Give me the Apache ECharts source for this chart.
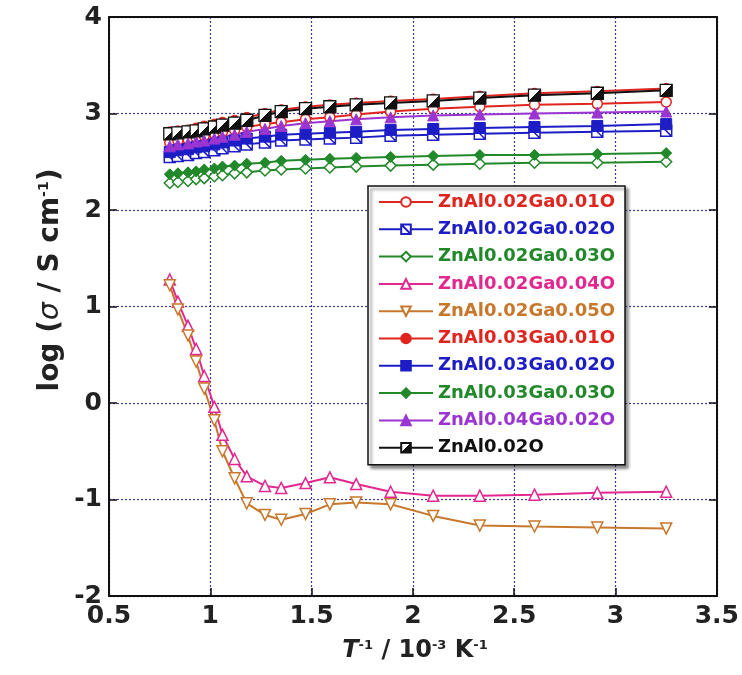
<!DOCTYPE html>
<html>
<head>
<meta charset="utf-8">
<script src="https://cdn.jsdelivr.net/npm/echarts@6/dist/echarts.min.js"></script>
<style>
  html, body { margin: 0; padding: 0; background: #fff; }
  #chart { width: 742px; height: 675px; }
</style>
</head>
<body>
<div id="chart"></div>
<script>
// Inverse temperature, 10^-3 K^-1
const invT = [0.80, 0.84, 0.89, 0.93, 0.97, 1.02, 1.06, 1.12, 1.18, 1.27,
              1.35, 1.47, 1.59, 1.72, 1.89, 2.10, 2.33, 2.60, 2.91, 3.25];

// log(sigma / S cm^-1) for each composition
const znAl002Ga001 = [2.70, 2.72, 2.73, 2.75, 2.77, 2.79, 2.81, 2.83, 2.86, 2.89,
                      2.91, 2.94, 2.96, 2.99, 3.02, 3.05, 3.07, 3.09, 3.10, 3.12];
const znAl002Ga002 = [2.55, 2.56, 2.57, 2.59, 2.60, 2.62, 2.64, 2.66, 2.68, 2.70,
                      2.72, 2.73, 2.74, 2.75, 2.77, 2.78, 2.79, 2.80, 2.81, 2.82];
const znAl002Ga003 = [2.28, 2.29, 2.30, 2.32, 2.33, 2.35, 2.36, 2.38, 2.39, 2.41,
                      2.42, 2.43, 2.44, 2.45, 2.46, 2.47, 2.48, 2.49, 2.49, 2.50];
const znAl002Ga004 = [1.28, 1.05, 0.80, 0.56, 0.28, -0.04, -0.33, -0.58, -0.76, -0.86,
                      -0.88, -0.83, -0.77, -0.84, -0.92, -0.96, -0.96, -0.95, -0.93, -0.92];
const znAl002Ga005 = [1.22, 0.97, 0.70, 0.43, 0.15, -0.18, -0.50, -0.78, -1.04, -1.16,
                      -1.21, -1.15, -1.05, -1.03, -1.05, -1.17, -1.27, -1.28, -1.29, -1.30];
const znAl003Ga001 = [2.81, 2.82, 2.83, 2.85, 2.87, 2.89, 2.91, 2.93, 2.96, 3.00,
                      3.04, 3.07, 3.09, 3.11, 3.13, 3.15, 3.18, 3.21, 3.23, 3.26];
const znAl003Ga002 = [2.60, 2.62, 2.63, 2.65, 2.66, 2.68, 2.70, 2.72, 2.74, 2.76,
                      2.78, 2.79, 2.80, 2.81, 2.83, 2.84, 2.85, 2.86, 2.87, 2.89];
const znAl003Ga003 = [2.37, 2.38, 2.39, 2.40, 2.42, 2.43, 2.45, 2.46, 2.48, 2.49,
                      2.51, 2.52, 2.53, 2.54, 2.55, 2.56, 2.57, 2.57, 2.58, 2.59];
const znAl004Ga002 = [2.66, 2.68, 2.69, 2.71, 2.72, 2.74, 2.76, 2.78, 2.81, 2.84,
                      2.87, 2.90, 2.92, 2.94, 2.96, 2.98, 2.99, 3.00, 3.01, 3.02];
const znAl002 = [2.79, 2.80, 2.81, 2.82, 2.84, 2.86, 2.88, 2.90, 2.93, 2.98,
                 3.02, 3.05, 3.07, 3.09, 3.11, 3.13, 3.16, 3.19, 3.21, 3.24];

const xTicks = { min: 0.5, max: 3.5, step: 0.5 };
const yTicks = { min: -2, max: 4, step: 1 };

const RED = '#e0241e', BLUE = '#1d1dc6', GREEN = '#22892a',
      PINK = '#e2288f', ORANGE = '#c8782c', PURPLE = '#9a35d2', BLACK = '#111111';

const pairs = ys => invT.map((x, i) => [x, ys[i]]);

function openMark(color, symbol, extra) {
  return Object.assign({
    symbol: symbol,
    symbolSize: 10,
    lineStyle: { color: color, width: 2 },
    itemStyle: { color: '#ffffff', borderColor: color, borderWidth: 1.5 }
  }, extra || {});
}
function filledMark(color, symbol, size) {
  return {
    symbol: symbol,
    symbolSize: size || 10,
    lineStyle: { color: color, width: 2 },
    itemStyle: { color: color, borderColor: color, borderWidth: 1 }
  };
}

const seriesDefs = [
  ['ZnAl0.02Ga0.01O', znAl002Ga001, RED, openMark(RED, 'circle')],
  ['ZnAl0.02Ga0.02O', znAl002Ga002, BLUE, openMark(BLUE, 'path://M0,0L10,0L10,10L0,10Z M0,0L10,10', { symbolSize: 11 })],
  ['ZnAl0.02Ga0.03O', znAl002Ga003, GREEN, openMark(GREEN, 'diamond', { symbolSize: [11, 11] })],
  ['ZnAl0.02Ga0.04O', znAl002Ga004, PINK, openMark(PINK, 'triangle', { symbolSize: 11 })],
  ['ZnAl0.02Ga0.05O', znAl002Ga005, ORANGE, openMark(ORANGE, 'triangle', { symbolSize: 11, symbolRotate: 180 })],
  ['ZnAl0.03Ga0.01O', znAl003Ga001, RED, filledMark(RED, 'circle', 10)],
  ['ZnAl0.03Ga0.02O', znAl003Ga002, BLUE, filledMark(BLUE, 'rect', 11)],
  ['ZnAl0.03Ga0.03O', znAl003Ga003, GREEN, filledMark(GREEN, 'diamond', 11)],
  ['ZnAl0.04Ga0.02O', znAl004Ga002, PURPLE, filledMark(PURPLE, 'triangle', 11)],
  ['ZnAl0.02O', znAl002, BLACK, {
    symbol: 'rect',
    symbolSize: 12,
    lineStyle: { color: BLACK, width: 2 },
    itemStyle: {
      color: new echarts.graphic.LinearGradient(0, 0, 1, 1, [
        { offset: 0, color: '#ffffff' }, { offset: 0.5, color: '#ffffff' },
        { offset: 0.5, color: BLACK }, { offset: 1, color: BLACK }
      ]),
      borderColor: BLACK, borderWidth: 1.3
    }
  }]
];

const series = seriesDefs.map(([name, ys, color, style]) => Object.assign({
  name: name,
  type: 'line',
  data: pairs(ys),
  showSymbol: true,
  animation: false,
  z: 3
}, style));

const FONT = 'DejaVu Sans';
const tickLabel = { color: '#222', fontFamily: FONT, fontWeight: 'bold', fontSize: 25 };
const gridLine = { show: true, lineStyle: { color: '#3a3aa8', type: [2, 2], width: 1.2 } };
const frame = { show: true, onZero: false, lineStyle: { color: '#111', width: 2 } };
const innerTick = { show: true, inside: true, length: 8, lineStyle: { color: '#111', width: 1.5 } };

const chart = echarts.init(document.getElementById('chart'), null, { renderer: 'canvas' });
chart.setOption({
  backgroundColor: '#ffffff',
  animation: false,
  grid: { left: 109, right: 21, top: 17, bottom: 79 },
  xAxis: [{
    type: 'value', min: xTicks.min, max: xTicks.max, interval: xTicks.step,
    axisLine: frame,
    axisTick: innerTick,
    axisLabel: Object.assign({ margin: 8 }, tickLabel),
    splitLine: gridLine
  }, {
    type: 'value', position: 'top', min: xTicks.min, max: xTicks.max, interval: xTicks.step,
    axisLine: frame, axisTick: { show: false }, axisLabel: { show: false }, splitLine: { show: false }
  }],
  yAxis: [{
    type: 'value', min: yTicks.min, max: yTicks.max, interval: yTicks.step,
    axisLine: frame,
    axisTick: innerTick,
    axisLabel: Object.assign({ margin: 7 }, tickLabel),
    splitLine: gridLine
  }, {
    type: 'value', position: 'right', min: yTicks.min, max: yTicks.max, interval: yTicks.step,
    axisLine: frame,
    axisTick: innerTick,
    axisLabel: { show: false }, splitLine: { show: false }
  }],
  legend: {
    orient: 'vertical',
    left: 368, top: 186,
    padding: [7, 10, 8, 10],
    itemWidth: 54, itemHeight: 12, itemGap: 9.3,
    backgroundColor: '#ffffff',
    borderColor: '#111', borderWidth: 1.5,
    shadowColor: 'rgba(0,0,0,0.45)', shadowBlur: 3, shadowOffsetX: 3, shadowOffsetY: 3,
    textStyle: { fontFamily: FONT, fontWeight: 'bold', fontSize: 18, lineHeight: 17 },
    data: seriesDefs.map(([name, , color]) => ({ name: name, textStyle: { color: color } }))
  },
  graphic: [{
    type: 'text',
    x: 51, y: 280,
    rotation: Math.PI / 2,
    style: {
      text: '{a|log (}{s|σ}{a| / S cm}{p|-1}{a|)}',
      align: 'center', verticalAlign: 'middle',
      rich: {
        a: { fontFamily: FONT, fontWeight: 'bold', fontSize: 28, fill: '#222' },
        s: { fontFamily: FONT, fontStyle: 'italic', fontSize: 28, fill: '#222' },
        p: { fontFamily: FONT, fontWeight: 'bold', fontSize: 14, fill: '#222', verticalAlign: 'top' }
      }
    }
  }, {
    type: 'text',
    x: 415, y: 651,
    style: {
      text: '{t|T}{p|-1}{a| / 10}{p|-3}{a| K}{p|-1}',
      align: 'center', verticalAlign: 'middle',
      rich: {
        t: { fontFamily: FONT, fontWeight: 'bold', fontStyle: 'italic', fontSize: 24, fill: '#222' },
        a: { fontFamily: FONT, fontWeight: 'bold', fontSize: 24, fill: '#222' },
        p: { fontFamily: FONT, fontWeight: 'bold', fontSize: 13, fill: '#222', verticalAlign: 'top' }
      }
    }
  }],
  series: series
});
</script>
</body>
</html>
